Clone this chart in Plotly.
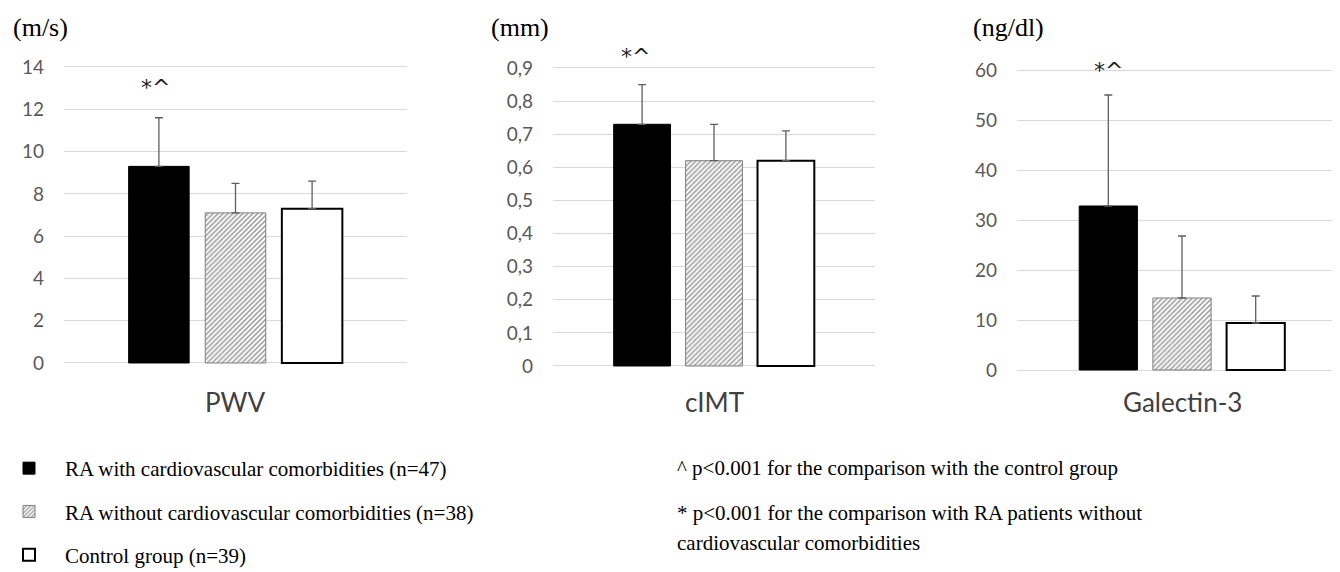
import plotly.graph_objects as go

# ---- data ----
groups = ["RA with cardiovascular comorbidities (n=47)",
          "RA without cardiovascular comorbidities (n=38)",
          "Control group (n=39)"]
measures = ["PWV", "cIMT", "Galectin-3"]
units = ["(m/s)", "(mm)", "(ng/dl)"]
# means per measure, order: RA+CV, RA-CV, control
pwv_mean = [9.3, 7.1, 7.3]
pwv_upper = [11.6, 8.5, 8.6]
cimt_mean = [0.73, 0.62, 0.62]
cimt_upper = [0.85, 0.73, 0.71]
gal_mean = [32.8, 14.4, 9.4]
gal_upper = [55.0, 26.8, 14.8]
sig_label = "*^"
notes = ["^ p<0.001 for the comparison with the control group",
         "* p<0.001 for the comparison with RA patients without",
         "cardiovascular comorbidities"]

W, H = 1340, 572
OFF = 8  # page body margin


def px(X):
    return (X - OFF) / W


def py(Y):
    return 1 - (Y - OFF) / H


means = [pwv_mean, cimt_mean, gal_mean]
uppers = [pwv_upper, cimt_upper, gal_upper]

# layout geometry (pixels in the window)
panels = [
    dict(x0=64, x1=407, p0=363, k=296 / 14, lo=-0.15, hi=14.3, dtick=2, xr=[-0.5, 0.5]),
    dict(x0=553, x1=875, p0=366, k=298 / 0.9, lo=-0.008, hi=0.92, dtick=0.1, xr=[-0.5, 0.5]),
    dict(x0=1017, x1=1340, p0=370, k=5.0, lo=-0.6, hi=61.5, dtick=10, xr=[-0.5, -0.5 + 323 / 330]),
]
sig_pos = [(155, 87), (635, 57), (1108, 71)]
unit_x = [11, 489, 971]

fills = [
    dict(color="black", line=dict(color="black", width=1)),
    dict(color="white", line=dict(color="#7f7f7f", width=1),
         pattern=dict(shape="/", fgcolor="#3c3c3c", bgcolor="white", size=3.5, solidity=0.45)),
    dict(color="white", line=dict(color="black", width=2)),
]

fig = go.Figure()
for pi, (m, mean, up) in enumerate(zip(measures, means, uppers)):
    suffix = "" if pi == 0 else str(pi + 1)
    for gi, g in enumerate(groups):
        fig.add_trace(go.Bar(
            x=[m], y=[mean[gi]], name=g,
            legendgroup=g, showlegend=(pi == 0),
            marker=fills[gi],
            error_y=dict(type="data", symmetric=False,
                         array=[up[gi] - mean[gi]], arrayminus=[0],
                         color="#5e5e5e", thickness=1.3, width=4),
            xaxis="x" + suffix, yaxis="y" + suffix,
        ))

layout = dict(
    width=W, height=H, margin=dict(l=0, r=0, t=0, b=0, autoexpand=False),
    paper_bgcolor="white", plot_bgcolor="white",
    barmode="group", bargap=0.33, bargroupgap=0.21,
    separators=", ",
    showlegend=True,
    legend=dict(x=-15 / W, y=1 - 440 / H, xanchor="left", yanchor="top",
                font=dict(family="Liberation Serif", size=21, color="black"),
                tracegroupgap=13, itemwidth=62, bgcolor="rgba(0,0,0,0)"),
)
annotations = []
for pi, p in enumerate(panels):
    suffix = "" if pi == 0 else str(pi + 1)
    ybot = py(p["p0"] - p["lo"] * p["k"])
    ytop = py(p["p0"] - p["hi"] * p["k"])
    layout["xaxis" + suffix] = dict(
        domain=[px(p["x0"]), min(1.0, px(p["x1"]))], anchor="y" + suffix,
        range=p["xr"], showticklabels=False, showgrid=False, zeroline=False,
        showline=False, fixedrange=True)
    layout["yaxis" + suffix] = dict(
        domain=[ybot, ytop], anchor="x" + suffix,
        range=[p["lo"], p["hi"]], dtick=p["dtick"], tick0=0,
        showgrid=True, gridcolor="#d9d9d9", gridwidth=1,
        zeroline=True, zerolinecolor="#d9d9d9", zerolinewidth=1,
        showline=False, ticks="", ticklabelstandoff=19,
        tickfont=dict(family="Lato", size=19, color="#595959"), fixedrange=True)
    # category label
    annotations.append(dict(text=measures[pi], xref="x" + suffix, x=0,
                            yref="paper", y=py(402), showarrow=False,
                            xanchor="center", yanchor="middle",
                            font=dict(family="Lato", size=26, color="#404040")))
    # unit label
    annotations.append(dict(text=units[pi], xref="paper", x=px(unit_x[pi]),
                            yref="paper", y=py(27), showarrow=False,
                            xanchor="left", yanchor="middle",
                            font=dict(family="Liberation Serif", size=26, color="black")))
    # significance marker above first bar
    sx, sy = sig_pos[pi]
    annotations.append(dict(text=sig_label, xref="paper", x=px(sx),
                            yref="paper", y=py(sy), showarrow=False,
                            xanchor="center", yanchor="middle",
                            font=dict(family="DejaVu Sans", size=22, color="#222222")))

for txt, yy in zip(notes, [468, 513, 543]):
    annotations.append(dict(text=txt, xref="paper", x=px(675), yref="paper", y=py(yy),
                            showarrow=False, xanchor="left", yanchor="middle",
                            font=dict(family="Liberation Serif", size=21, color="black")))

layout["annotations"] = annotations
fig.update_layout(**layout)
fig.write_html("out.html")
